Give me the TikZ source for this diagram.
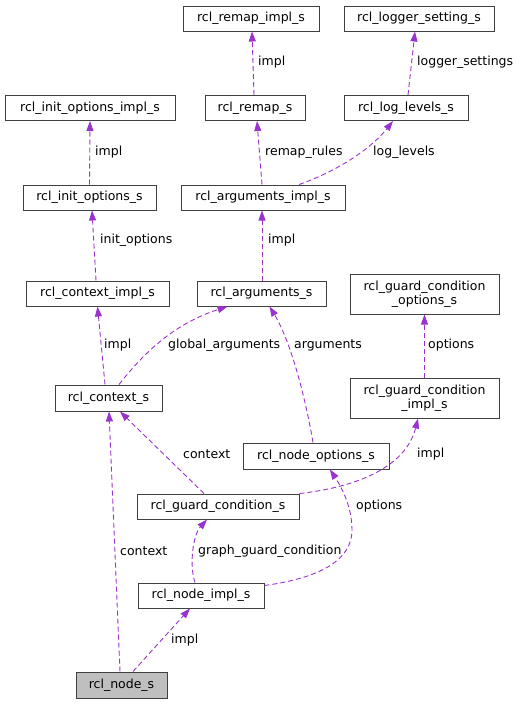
\documentclass[tikz,border=0pt]{standalone}
\usepackage{fontspec}
\setmainfont{DejaVu Sans}
\usetikzlibrary{arrows.meta}
\definecolor{edgecol}{HTML}{9A32CD}
\definecolor{nodegray}{HTML}{BFBFBF}
\definecolor{boxline}{HTML}{404040}
\tikzset{
  box/.style={draw=boxline, line width=1pt, fill=white, inner sep=0pt, minimum height=25pt, align=center, font=\fontsize{12.5}{14}\selectfont},
  lbl/.style={anchor=west, inner sep=0pt, font=\fontsize{12.5}{14}\selectfont},
  rel/.style={draw=edgecol, line width=0.9pt, dash pattern=on 5pt off 3pt, -{Triangle[length=10pt,width=7pt,fill=edgecol]}},
}
\begin{document}
\begin{tikzpicture}[x=1pt,y=-1pt]
\useasboundingbox (0,0) rectangle (527,704);
% nodes
\node[box, minimum width=136pt] (remapimpl) at (251,18.5) {rcl\_remap\_impl\_s};
\node[box, minimum width=150pt] (loggerset) at (419,18.5) {rcl\_logger\_setting\_s};
\node[box, minimum width=170pt] (initimpl) at (90,108) {rcl\_init\_options\_impl\_s};
\node[box, minimum width=100pt] (remap) at (255,108) {rcl\_remap\_s};
\node[box, minimum width=124pt] (loglevels) at (406,108) {rcl\_log\_levels\_s};
\node[box, minimum width=133pt] (initopts) at (89.5,197.5) {rcl\_init\_options\_s};
\node[box, minimum width=164pt] (argsimpl) at (263,197.5) {rcl\_arguments\_impl\_s};
\node[box, minimum width=143pt] (ctximpl) at (97.5,293.5) {rcl\_context\_impl\_s};
\node[box, minimum width=129pt] (args) at (261.5,293.5) {rcl\_arguments\_s};
\node[box, minimum width=149pt, minimum height=40pt] (gcopts) at (424.5,294) {rcl\_guard\_condition\\\_options\_s};
\node[box, minimum width=107pt, minimum height=26pt] (ctx) at (108.5,398) {rcl\_context\_s};
\node[box, minimum width=149pt, minimum height=40pt] (gcimpl) at (424.5,398) {rcl\_guard\_condition\\\_impl\_s};
\node[box, minimum width=146pt, minimum height=26pt] (nodeopts) at (316,456) {rcl\_node\_options\_s};
\node[box, minimum width=162pt] (gc) at (218,506.5) {rcl\_guard\_condition\_s};
\node[box, minimum width=126pt] (nodeimpl) at (201,595.5) {rcl\_node\_impl\_s};
\node[box, minimum width=91pt, minimum height=26pt, fill=nodegray] (node) at (121.5,685) {rcl\_node\_s};
% edges
\draw[rel] ([xshift=-1]remap.north) -- ([xshift=1]remapimpl.south);
\draw[rel] ([xshift=2]loglevels.north) -- ([xshift=-4]loggerset.south);
\draw[rel] (initopts.north) -- (initimpl.south);
\draw[rel] ([xshift=-1]argsimpl.north) -- ([xshift=2]remap.south);
\draw[rel] ([xshift=36]argsimpl.north) .. controls (335,172) and (370,150) .. ([xshift=-13]loglevels.south);
\draw[rel] ([xshift=0.5]args.north) -- ([xshift=-1]argsimpl.south);
\draw[rel] ([xshift=-1.5]ctximpl.north) -- ([xshift=2.5]initopts.south);
\draw[rel] ([xshift=-3.5]ctx.north) -- (ctximpl.south);
\draw[rel] ([xshift=10.5]ctx.north) .. controls (140,358) and (170,325) .. ([xshift=-34]args.south);
\draw[rel] ([xshift=-3]nodeopts.north) .. controls (305,395) and (290,340) .. ([xshift=8]args.south);
\draw[rel] (gcimpl.north) -- (gcopts.south);
\draw[rel] ([xshift=-1.5]node.north) -- ([xshift=0.5]ctx.south);
\draw[rel] ([xshift=-14]gc.north) -- ([xshift=11.5]ctx.south);
\draw[rel] (gc.north east) .. controls (350,488) and (405,470) .. ([xshift=-6.5]gcimpl.south);
\draw[rel] ([yshift=-3]nodeimpl.north east) .. controls (320,578) and (352,560) .. (352,530) .. controls (352,505) and (340,485) .. ([xshift=14]nodeopts.south);
\draw[rel] ([xshift=-6]nodeimpl.north) .. controls (189,565) and (193,535) .. ([xshift=-11]gc.south);
\draw[rel] ([xshift=11.5]node.north) -- ([xshift=-11]nodeimpl.south);
% labels
\node[lbl] (l1) at (258,62) {impl};
\node[lbl] (l2) at (417,62) {logger\_settings};
\node[lbl] (l3) at (95,152) {impl};
\node[lbl] (l4) at (265,152) {remap\_rules};
\node[lbl] (l5) at (373,152) {log\_levels};
\node[lbl] (l6) at (100,240) {init\_options};
\node[lbl] (l7) at (268,240) {impl};
\node[lbl] (l8) at (104,345) {impl};
\node[lbl] (l9) at (168,345) {global\_arguments};
\node[lbl] (l10) at (294,345) {arguments};
\node[lbl] (l11) at (428,345) {options};
\node[lbl] (l12) at (183,454) {context};
\node[lbl] (l13) at (417,454) {impl};
\node[lbl] (l14) at (356,506) {options};
\node[lbl] (l15) at (120,551) {context};
\node[lbl] (l16) at (198,551) {graph\_guard\_condition};
\node[lbl] (l17) at (171,640) {impl};
\end{tikzpicture}
\end{document}
